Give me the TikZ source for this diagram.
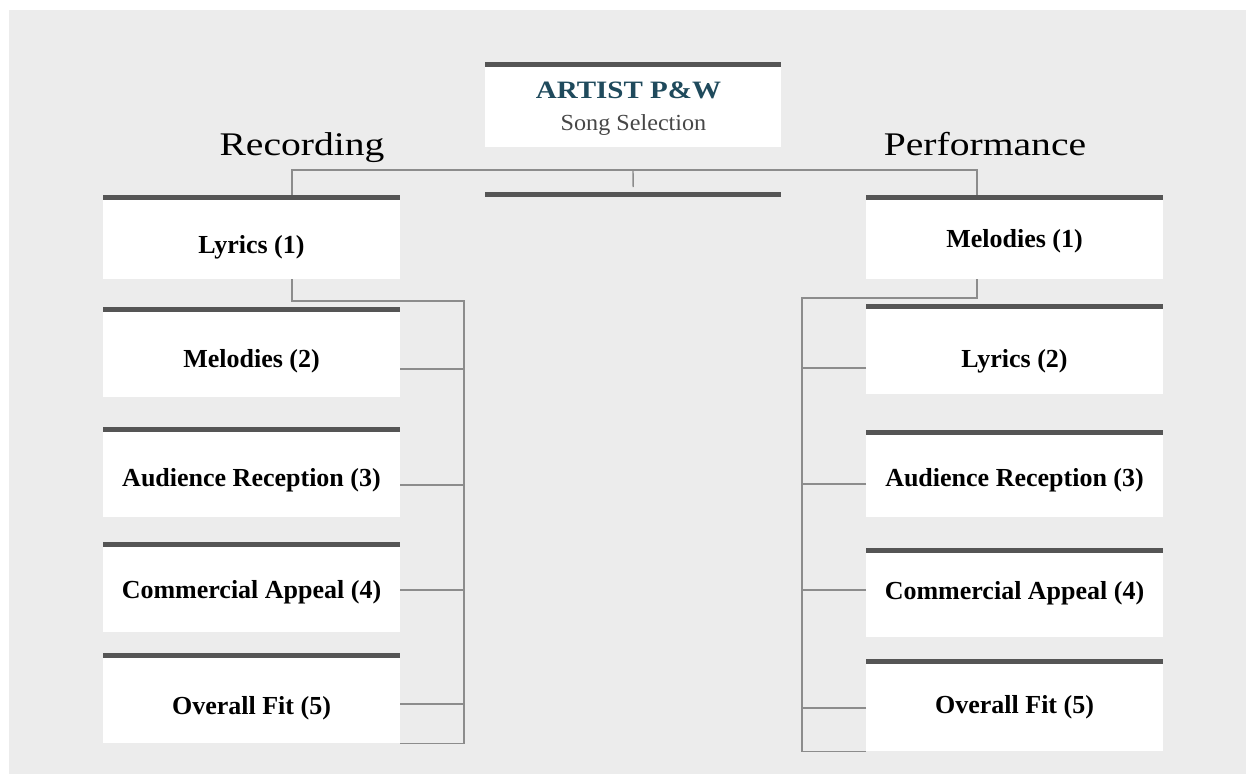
\documentclass[tikz,border=0pt]{standalone}
\usepackage{fontspec}
\setmainfont{Liberation Serif}
\definecolor{canvas}{HTML}{ECECEC}
\definecolor{barc}{HTML}{555555}
\definecolor{wire}{HTML}{8C8C8C}
\definecolor{titleblue}{HTML}{1F4A5C}
\definecolor{subgray}{HTML}{474747}
% dark strip across the top edge of a card
\newcommand\topbar[1]{\fill[barc] (#1.north west) rectangle ([yshift=-4.5pt]#1.north east);}
\begin{document}
\begin{tikzpicture}[x=1pt,y=-1pt,
  card/.style={rectangle, fill=white, inner sep=0pt, minimum width=297pt, anchor=north west},
  cardtext/.style={anchor=base, inner sep=0pt, font=\fontsize{26}{30}\selectfont\bfseries},
  heading/.style={anchor=base, inner sep=0pt, font=\fontsize{33}{40}\selectfont},
  wirestyle/.style={draw=wire, line width=1.4pt}]
\useasboundingbox (0,0) rectangle (1246,774);
\fill[canvas] (9,10) rectangle (1246,774);

% title card
\node[card, minimum width=296pt, minimum height=85pt] (top) at (485,62) {};
\topbar{top}
\node[anchor=base, inner sep=0pt, text=titleblue, font=\fontsize{25}{30}\selectfont\bfseries] (title) at (628.5,98) {\scalebox{1.16}[1]{ARTIST P\&W}};
\node[anchor=base, inner sep=0pt, text=subgray, font=\fontsize{23}{28}\selectfont] (subtitle) at (633.5,130) {\scalebox{1.05}[1]{Song Selection}};

% empty strip under the hub
\node[rectangle, fill=barc, inner sep=0pt, minimum width=296pt, minimum height=5pt, anchor=north west] (mid) at (485,192) {};

% column headings
\node[heading] (rec) at (302,155) {\scalebox{1.2}[1]{Recording}};
\node[heading] (perf) at (985,155) {\scalebox{1.2}[1]{Performance}};

% recording column
\node[card, minimum height=84pt] (L1) at (103,195) {};
\node[card, minimum height=90pt] (L2) at (103,307) {};
\node[card, minimum height=90pt] (L3) at (103,427) {};
\node[card, minimum height=90pt] (L4) at (103,542) {};
\node[card, minimum height=90pt] (L5) at (103,653) {};
\foreach \n in {L1,L2,L3,L4,L5} {\topbar{\n}}
\node[cardtext] (L1t) at (251.5,253) {Lyrics (1)};
\node[cardtext] (L2t) at (251.5,367) {Melodies (2)};
\node[cardtext] (L3t) at (251.5,486) {Audience Reception (3)};
\node[cardtext] (L4t) at (251.5,598) {Commercial Appeal (4)};
\node[cardtext] (L5t) at (251.5,714) {Overall Fit (5)};

% performance column
\node[card, minimum height=84pt] (R1) at (866,195) {};
\node[card, minimum height=90pt] (R2) at (866,304) {};
\node[card, minimum height=87pt] (R3) at (866,430) {};
\node[card, minimum height=89pt] (R4) at (866,548) {};
\node[card, minimum height=92pt] (R5) at (866,659) {};
\foreach \n in {R1,R2,R3,R4,R5} {\topbar{\n}}
\node[cardtext] (R1t) at (1014.5,247) {Melodies (1)};
\node[cardtext] (R2t) at (1014.5,367) {Lyrics (2)};
\node[cardtext] (R3t) at (1014.5,486) {Audience Reception (3)};
\node[cardtext] (R4t) at (1014.5,599) {Commercial Appeal (4)};
\node[cardtext] (R5t) at (1014.5,713) {Overall Fit (5)};

% connectors
\coordinate (hub) at (633,170);
\coordinate (ltap) at (292,0);
\coordinate (rtap) at (977,0);
\coordinate (lspine) at (464,301);
\coordinate (rspine) at (802,298);

\draw[wirestyle] (L1.north -| ltap) |- (hub) -| (R1.north -| rtap);
\draw[wirestyle] (hub) -- ([yshift=5pt]mid.north);

\draw[wirestyle] (L1.south -| ltap) |- (lspine) -- (lspine |- L5.south) -- (L5.south east);
\draw[wirestyle] (L2.east |- 0,369) -- (lspine |- 0,369);
\draw[wirestyle] (L3.east |- 0,485) -- (lspine |- 0,485);
\draw[wirestyle] (L4.east |- 0,590) -- (lspine |- 0,590);
\draw[wirestyle] (L5.east |- 0,704) -- (lspine |- 0,704);

\draw[wirestyle] (R1.south -| rtap) |- (rspine) -- (rspine |- R5.south) -- (R5.south west);
\draw[wirestyle] (R2.west |- 0,368) -- (rspine |- 0,368);
\draw[wirestyle] (R3.west |- 0,484) -- (rspine |- 0,484);
\draw[wirestyle] (R4.west |- 0,590) -- (rspine |- 0,590);
\draw[wirestyle] (R5.west |- 0,708) -- (rspine |- 0,708);
\end{tikzpicture}
\end{document}
